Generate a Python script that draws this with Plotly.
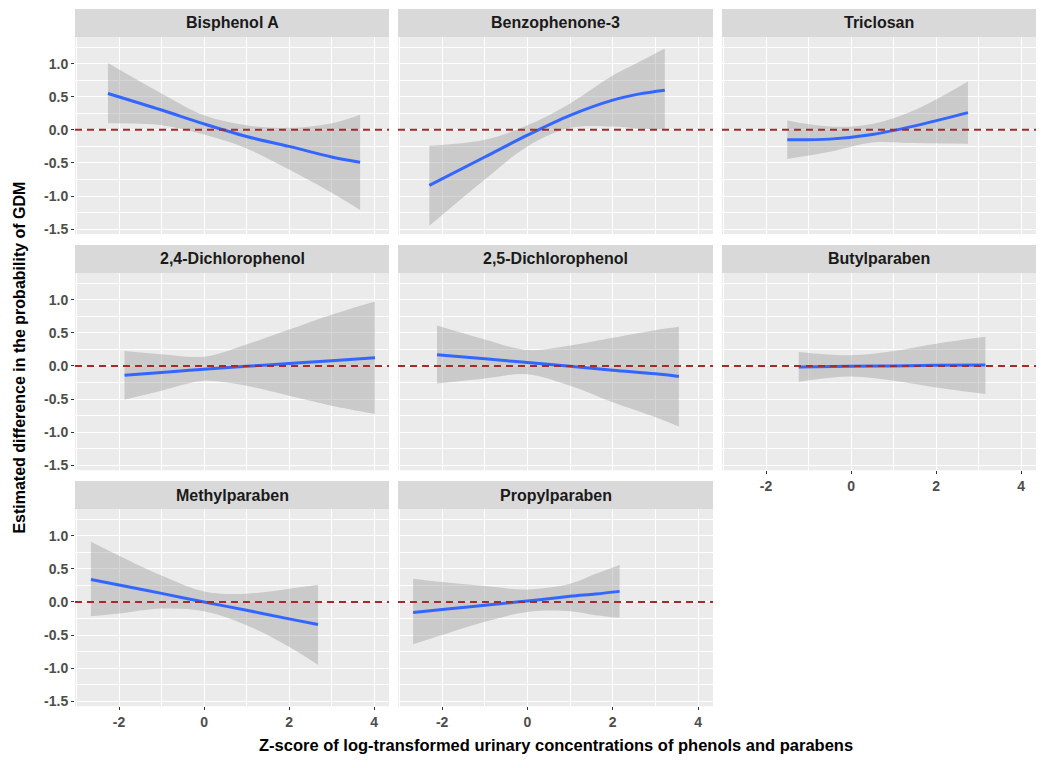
import plotly.graph_objects as go
from plotly.subplots import make_subplots

# facet titles, in facet_wrap order (3 columns)
facets = [
    "Bisphenol A", "Benzophenone-3", "Triclosan",
    "2,4-Dichlorophenol", "2,5-Dichlorophenol", "Butylparaben",
    "Methylparaben", "Propylparaben",
]

# smooth fits: x, fit, lower CI, upper CI
bpa_x = [-2.26, -1.0, 0.0, 1.0, 2.0, 3.0, 3.67]
bpa_fit = [0.55, 0.30, 0.09, -0.10, -0.25, -0.41, -0.49]
bpa_lo = [0.10, 0.07, -0.07, -0.28, -0.60, -0.95, -1.21]
bpa_hi = [1.01, 0.55, 0.22, 0.07, 0.03, 0.10, 0.23]

bp3_x = [-2.30, -1.0, 0.0, 1.0, 2.0, 2.6, 3.22]
bp3_fit = [-0.84, -0.41, -0.08, 0.22, 0.45, 0.54, 0.60]
bp3_lo = [-1.45, -0.75, -0.25, 0.03, 0.05, 0.02, 0.00]
bp3_hi = [-0.24, -0.15, 0.07, 0.40, 0.82, 1.02, 1.23]

tcs_x = [-1.50, -0.5, 0.5, 1.5, 2.75]
tcs_fit = [-0.15, -0.14, -0.07, 0.06, 0.26]
tcs_lo = [-0.44, -0.33, -0.19, -0.20, -0.21]
tcs_hi = [0.14, 0.05, 0.09, 0.30, 0.73]

dcp24_x = [-1.87, -1.0, 0.0, 1.0, 2.0, 3.0, 4.02]
dcp24_fit = [-0.14, -0.10, -0.05, -0.005, 0.035, 0.08, 0.125]
dcp24_lo = [-0.51, -0.375, -0.225, -0.30, -0.45, -0.60, -0.725]
dcp24_hi = [0.225, 0.175, 0.14, 0.325, 0.55, 0.775, 0.975]

dcp25_x = [-2.12, -1.0, 0.0, 1.0, 2.0, 3.0, 3.55]
dcp25_fit = [0.17, 0.107, 0.05, -0.005, -0.065, -0.12, -0.16]
dcp25_lo = [-0.265, -0.19, -0.125, -0.30, -0.55, -0.775, -0.915]
dcp25_hi = [0.61, 0.40, 0.24, 0.31, 0.425, 0.54, 0.59]

bup_x = [-1.23, 0.0, 1.0, 2.0, 3.16]
bup_fit = [-0.015, -0.005, 0.0, 0.01, 0.015]
bup_lo = [-0.24, -0.16, -0.225, -0.325, -0.425]
bup_hi = [0.21, 0.16, 0.225, 0.335, 0.44]

mep_x = [-2.66, -2.0, -1.0, 0.0, 1.0, 2.0, 2.68]
mep_fit = [0.34, 0.255, 0.13, 0.0, -0.125, -0.255, -0.34]
mep_lo = [-0.215, -0.175, -0.10, -0.14, -0.35, -0.675, -0.95]
mep_hi = [0.91, 0.70, 0.40, 0.16, 0.125, 0.20, 0.26]

prp_x = [-2.68, -2.0, -1.0, 0.0, 1.0, 1.6, 2.16]
prp_fit = [-0.16, -0.115, -0.05, 0.015, 0.085, 0.12, 0.16]
prp_lo = [-0.64, -0.50, -0.30, -0.15, -0.14, -0.20, -0.24]
prp_hi = [0.35, 0.30, 0.24, 0.19, 0.275, 0.425, 0.56]

series = [
    (bpa_x, bpa_fit, bpa_lo, bpa_hi),
    (bp3_x, bp3_fit, bp3_lo, bp3_hi),
    (tcs_x, tcs_fit, tcs_lo, tcs_hi),
    (dcp24_x, dcp24_fit, dcp24_lo, dcp24_hi),
    (dcp25_x, dcp25_fit, dcp25_lo, dcp25_hi),
    (bup_x, bup_fit, bup_lo, bup_hi),
    (mep_x, mep_fit, mep_lo, mep_hi),
    (prp_x, prp_fit, prp_lo, prp_hi),
]

x_ticks = [-2, 0, 2, 4]
x_ticktext = ["-2", "0", "2", "4"]
y_ticks = [-1.5, -1.0, -0.5, 0.0, 0.5, 1.0]
y_ticktext = ["-1.5", "-1.0", "-0.5", "0.0", "0.5", "1.0"]

# the page body has an 8px margin, so the figure sits at (8, 8)
OFF = 8
W, H = 1034, 752
col_px = [(75, 389), (398, 713), (722, 1036)]
row_px = [(37, 235), (274, 472), (511, 709)]  # panel area (below the strip)
strip_h = 28


def px_x(p):
    return (p - OFF) / W


def px_y(p):
    return 1 - (p - OFF) / H


FONT = "Liberation Sans, Arial, sans-serif"

fig = make_subplots(rows=3, cols=3)

for i, (xs, fit, lo, hi) in enumerate(series):
    r, c = i // 3 + 1, i % 3 + 1
    # ribbon: lower bound, then upper filled to it
    fig.add_trace(go.Scatter(x=xs, y=lo, mode="lines", line=dict(width=0, shape="spline"),
                             hoverinfo="skip"), row=r, col=c)
    fig.add_trace(go.Scatter(x=xs, y=hi, mode="lines", line=dict(width=0, shape="spline"),
                             fill="tonexty", fillcolor="rgba(153,153,153,0.4)",
                             hoverinfo="skip"), row=r, col=c)
    fig.add_trace(go.Scatter(x=xs, y=fit, mode="lines",
                             line=dict(color="#3366FF", width=3, shape="spline")),
                  row=r, col=c)

tickfont = dict(family=FONT, size=14, color="#4D4D4D", weight=700)

for i in range(9):
    r, c = i // 3, i % 3
    n = i + 1
    sfx = "" if n == 1 else str(n)
    xa, ya = "xaxis" + sfx, "yaxis" + sfx
    x0, x1 = col_px[c]
    y0, y1 = row_px[r]
    xdom = [px_x(x0), px_x(x1)]
    ydom = [px_y(y1), px_y(y0)]
    if i == 8:
        fig.layout[xa].update(domain=xdom, visible=False)
        fig.layout[ya].update(domain=ydom, visible=False)
        continue
    show_x = (r == 2) or (r == 1 and c == 2)
    show_y = c == 0
    fig.layout[xa].update(
        domain=xdom, range=[-3.035, 4.35], zeroline=False,
        tickvals=x_ticks, ticktext=x_ticktext, showticklabels=show_x,
        ticks="outside" if show_x else "", ticklen=3, tickwidth=1, tickcolor="#333333",
        tickfont=tickfont, showgrid=True, gridcolor="white", gridwidth=1.4,
        minor=dict(dtick=1, tick0=-3, showgrid=True, gridcolor="white", gridwidth=0.6, ticks=""),
        showline=False, fixedrange=True,
    )
    fig.layout[ya].update(
        domain=ydom, range=[-1.575, 1.405], zeroline=False,
        tickvals=y_ticks, ticktext=y_ticktext, showticklabels=show_y,
        ticks="outside" if show_y else "", ticklen=3, tickwidth=1, tickcolor="#333333",
        tickfont=tickfont, showgrid=True, gridcolor="white", gridwidth=1.4,
        minor=dict(dtick=0.25, tick0=0, showgrid=True, gridcolor="white", gridwidth=0.6, ticks=""),
        showline=False, fixedrange=True,
    )
    # panel background
    fig.add_shape(type="rect", xref="paper", yref="paper",
                  x0=xdom[0], x1=xdom[1], y0=ydom[0], y1=ydom[1],
                  fillcolor="#EBEBEB", line=dict(width=0), layer="below")
    # strip
    fig.add_shape(type="rect", xref="paper", yref="paper",
                  x0=xdom[0], x1=xdom[1], y0=px_y(y0), y1=px_y(y0 - strip_h),
                  fillcolor="#D9D9D9", line=dict(width=0), layer="below")
    fig.add_annotation(xref="paper", yref="paper", x=(xdom[0] + xdom[1]) / 2,
                       y=px_y(y0 - strip_h / 2), text=facets[i], showarrow=False,
                       xanchor="center", yanchor="middle",
                       font=dict(family=FONT, size=16, color="#1A1A1A", weight=700))
    # dashed reference line at zero
    fig.add_shape(type="line", xref=f"x{sfx} domain", yref=f"y{sfx}", x0=0, x1=1, y0=0, y1=0,
                  line=dict(color="#A52A2A", width=2, dash="7px,5px"))

fig.add_annotation(xref="paper", yref="paper", x=px_x(20), y=px_y(359),
                   text="Estimated difference in the probability of GDM", textangle=-90,
                   showarrow=False, xanchor="center", yanchor="middle",
                   font=dict(family=FONT, size=16, color="black", weight=700))
fig.add_annotation(xref="paper", yref="paper", x=px_x(556), y=px_y(748),
                   text="Z-score of log-transformed urinary concentrations of phenols and parabens",
                   showarrow=False, xanchor="center", yanchor="middle",
                   font=dict(family=FONT, size=16.5, color="black", weight=700))

fig.update_layout(
    width=W, height=H, autosize=False,
    margin=dict(l=0, r=0, t=0, b=0),
    paper_bgcolor="white", plot_bgcolor="rgba(0,0,0,0)",
    showlegend=False, font=dict(family=FONT),
)

fig.write_html("out.html")
